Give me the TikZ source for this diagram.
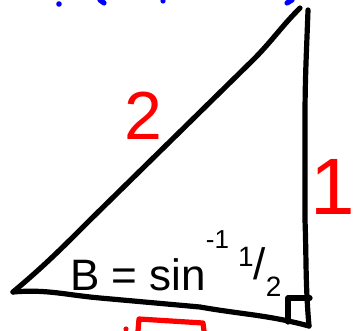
\documentclass[tikz,border=0pt]{standalone}
\usepackage{fontspec}
\setmainfont{Liberation Sans}
\usetikzlibrary{positioning}

\begin{document}
\begin{tikzpicture}[x=1pt,y=-1pt]
\tikzset{
  pen/.style={line width=5.2pt, line cap=round, line join=round},
  redpen/.style={pen, red},
  bluepen/.style={pen, blue},
  hand/.style={inner sep=0pt, font=\fontsize{44}{44}\selectfont},
  redtxt/.style={inner sep=0pt, red, font=\fontsize{68}{68}\selectfont}
}
\useasboundingbox (0,0) rectangle (356,331);
% ---------- triangle ----------
\coordinate (A) at (13,292);
\coordinate (T) at (300,8);
\coordinate (C) at (309,326);
\draw[pen] (T) to[out=225,in=45] (253,60) -- (90,220) to[out=225,in=40] (A);
\draw[pen] (A) to[out=5,in=175] (100,298) -- (200,307) to[out=-10,in=165] (C);
\draw[pen] (308,10) to[out=-92,in=90] (305,120) -- (305,220) to[out=-88,in=95] (C);
% right angle box
\draw[pen] (288,322) -- (288,298) -- (310,298);
% ---------- labels ----------
\node[redtxt] (hyp) at (143,116) {2};
\node[redtxt, font=\fontsize{80}{80}\selectfont] (opp) at (333,187) {1};
\node[hand, anchor=base west] (eqn) at (70,290)
  {B = sin\raisebox{0.95em}{\fontsize{26}{26}\selectfont -1}};
\node[hand, font=\fontsize{28}{28}\selectfont, anchor=west] (frac) at (238,272)
  {\raisebox{0.45em}{1}{\fontsize{44}{44}\selectfont/}\raisebox{-0.6em}{2}};
% ---------- cut-off strokes at the edges ----------
\draw[redpen] (138,331) -- (139,319) -- (203,323) -- (204,331);
\fill[red] (126,329) circle (2.6pt);
\fill[blue] (59,4) circle (2.8pt);
\draw[bluepen] (100,0) -- (104,3);
\fill[blue] (163,1) circle (2.6pt);
\draw[bluepen] (292,0) -- (287,3);
\end{tikzpicture}
\end{document}
